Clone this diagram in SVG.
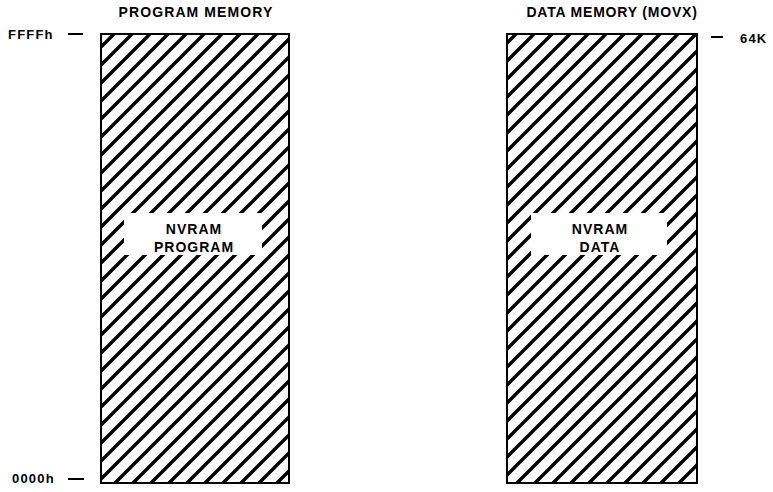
<svg xmlns="http://www.w3.org/2000/svg" width="773" height="492" viewBox="0 0 773 492">
<style>
  .t { font-family: "Liberation Sans", Arial, sans-serif; font-weight: bold; fill: #000; }
  .title { font-size: 14px; letter-spacing: 1.1px; }
  .lbl { font-size: 14px; letter-spacing: 1px; }
  .addr { font-size: 13px; letter-spacing: 1.2px; }
  .box { stroke: #000; stroke-width: 2; }
  .tick { stroke: #000; stroke-width: 2; fill: none; }
</style>
<defs>
  <pattern id="hatchL" patternUnits="userSpaceOnUse" x="4" y="0" width="18" height="18">
    <path d="M-2,2 L2,-2 M0,18 L18,0 M16,20 L20,16" stroke="#000" stroke-width="3.4"/>
  </pattern>
  <pattern id="hatchR" patternUnits="userSpaceOnUse" x="10" y="0" width="18" height="18">
    <path d="M-2,2 L2,-2 M0,18 L18,0 M16,20 L20,16" stroke="#000" stroke-width="3.4"/>
  </pattern>
</defs>
<rect width="773" height="492" fill="#fff"/>

<g id="program-memory">
  <text class="t title" x="196" y="17" text-anchor="middle">PROGRAM MEMORY</text>
  <rect class="box" x="101" y="34" width="188" height="449" fill="url(#hatchL)"/>
  <rect x="124" y="213" width="138" height="42" fill="#fff"/>
  <text class="t lbl" x="194" y="233.5" text-anchor="middle">NVRAM</text>
  <text class="t lbl" x="194" y="251.5" text-anchor="middle">PROGRAM</text>
</g>

<g id="data-memory">
  <text class="t title" x="612" y="17" text-anchor="middle" style="letter-spacing:0.8px">DATA MEMORY (MOVX)</text>
  <rect class="box" x="507" y="34" width="190" height="449" fill="url(#hatchR)"/>
  <rect x="531" y="213" width="136" height="42" fill="#fff"/>
  <text class="t lbl" x="600" y="233.5" text-anchor="middle">NVRAM</text>
  <text class="t lbl" x="600" y="251.5" text-anchor="middle">DATA</text>
</g>

<g id="addr-ffff">
  <text class="t addr" x="8" y="39">FFFFh</text>
</g>
<g id="addr-0000">
  <text class="t addr" x="12" y="483">0000h</text>
</g>
<g id="addr-64k">
  <text class="t addr" x="740" y="43">64K</text>
</g>

<g id="connectors">
  <line class="tick" x1="68" y1="34" x2="83" y2="34"/>
  <line class="tick" x1="68" y1="479" x2="84" y2="479"/>
  <line class="tick" x1="711" y1="37" x2="723" y2="37"/>
</g>
</svg>
